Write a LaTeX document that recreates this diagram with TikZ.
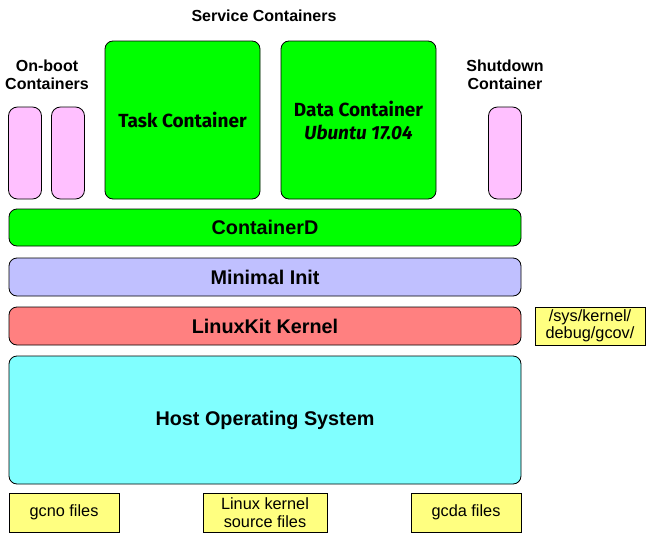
\documentclass[tikz,border=0pt]{standalone}
\usepackage{fontspec}
\setmainfont{Liberation Sans}
\newfontfamily\humfont{Fira Sans}
\definecolor{cgreen}{RGB}{0,255,0}
\definecolor{cpink}{RGB}{255,192,255}
\definecolor{clav}{RGB}{192,192,255}
\definecolor{cred}{RGB}{255,128,128}
\definecolor{ccyan}{RGB}{128,255,255}
\definecolor{cyel}{RGB}{255,255,128}
\begin{document}
\begin{tikzpicture}[x=1pt,y=-1pt,
  box/.style={draw=black,line width=0.8pt,rounded corners=8pt,inner sep=0pt,align=center},
  pinkbox/.style={box,fill=cpink,rounded corners=9pt,minimum width=33pt,minimum height=92pt},
  greenbox/.style={box,fill=cgreen,minimum width=155pt,minimum height=158pt,font=\humfont\bfseries\fontsize{19}{23}\selectfont},
  layer/.style={box,minimum width=512pt,font=\bfseries\fontsize{19.8}{22}\selectfont},
  filebox/.style={draw=black,line width=0.8pt,fill=cyel,inner sep=0pt,align=center,minimum height=39pt,font=\fontsize{16.3}{17.5}\selectfont},
  head/.style={align=center,inner sep=0pt,font=\bfseries\fontsize{16}{18}\selectfont}]
\useasboundingbox (0,0) rectangle (646,533);
\fill[white] (0,0) rectangle (646,533);
% headers
\node[head] (hserv) at (264,16) {Service Containers};
\node[head] (hboot) at (47,75) {On-boot\\Containers};
\node[head] (hshut) at (505,75) {Shutdown\\Container};
% containers
\node[pinkbox] (boot1) at (25,153) {};
\node[pinkbox] (boot2) at (68,153) {};
\node[pinkbox] (shut) at (505,153) {};
\node[greenbox] (task) at (182.5,120) {Task Container};
\node[greenbox] (data) at (358.5,120) {Data Container\\\itshape Ubuntu 17.04};
% layers
\node[layer,fill=cgreen,minimum height=37pt] (ctrd) at (265,227.5) {ContainerD};
\node[layer,fill=clav,minimum height=38pt] (init) at (265,277) {Minimal Init};
\node[layer,fill=cred,minimum height=38pt] (kern) at (265,326) {LinuxKit Kernel};
\node[layer,fill=ccyan,minimum height=128pt] (host) at (265,420) {Host Operating System};
% files
\node[filebox,minimum width=110pt,minimum height=38pt] (sys) at (590,326) {/sys/kernel/\\debug/gcov/};
\node[filebox,minimum width=110pt] (gcno) at (64,512.5) {gcno files};
\node[filebox,minimum width=124pt] (src) at (265,512.5) {Linux kernel\\source files};
\node[filebox,minimum width=110pt] (gcda) at (466,512.5) {gcda files};
\end{tikzpicture}
\end{document}
